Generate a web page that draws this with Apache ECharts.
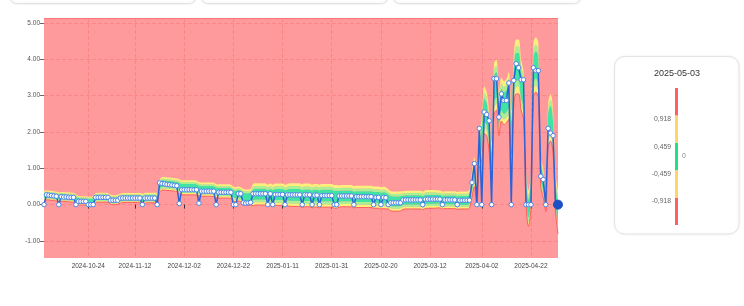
<!DOCTYPE html>
<html><head><meta charset="utf-8">
<script src="https://cdn.jsdelivr.net/npm/echarts@6/dist/echarts.min.js"></script>
<style>html,body{margin:0;padding:0;background:#fff}#c{width:744px;height:306px}</style>
</head><body><div id="c"></div>
<script>
// ---------- data ----------
const startDay = [2024, 9, 6]; // 2024-10-06, daily categories
const actual = [
 0,0.27,0.26,0.25,0.24,0.23,0,0.22,0.21,0.21,0.2,0.2,0.2,0,0.09,0.09,0.09,0.09,0,0,
 0,0.2,0.2,0.2,0.2,0.2,0.2,0.12,0.12,0.12,0.12,0.18,0.18,0.18,0.18,0.18,0.18,0.18,0.18,0.18,
 0,0.18,0.18,0.18,0.18,0.18,0,0.6,0.58,0.57,0.56,0.55,0.54,0.53,0.52,0.03,0.41,0.41,0.41,0.41,
 0.41,0.41,0.41,0.04,0.37,0.37,0.37,0.37,0.37,0.37,0,0.34,0.34,0.34,0.34,0.34,0.34,0,0,0.3,
 0.3,0.05,0.04,0.05,0.06,0.3,0.3,0.3,0.3,0.3,0.3,0,0.3,0,0.28,0.28,0.28,0.28,0,0.27,
 0.27,0.27,0.27,0.27,0.27,0,0.27,0.27,0.27,0,0.26,0.26,0,0.25,0.25,0.25,0.25,0.25,0,0,
 0.24,0.24,0.24,0.24,0.24,0.24,0,0.22,0.22,0.22,0.22,0.22,0.22,0.22,0,0.2,0.2,0,0.2,0.19,
 0,0.05,0.05,0.05,0.05,0.05,0.13,0.13,0.13,0.13,0.13,0.13,0.13,0.13,0,0.15,0.15,0.15,0.15,0.15,
 0.15,0.15,0,0.13,0.13,0.13,0.13,0.13,0,0.12,0.12,0.12,0.12,0.12,0.61,1.13,0,2.10,0,2.55,
 2.48,2.31,0,3.47,3.47,2.41,3.05,2.87,2.87,3.35,0,3.42,3.88,3.77,3.44,3.44,0,0,0,3.77,
 3.69,3.69,0.78,0.69,0,2.10,1.97,1.90,0,0
];
const bandCenter = [
 0.25,0.26,0.26,0.25,0.24,0.23,0.21,0.22,0.22,0.21,0.21,0.2,0.2,0.16,0.12,0.11,0.11,0.11,0.1,0.1,
 0.12,0.18,0.2,0.2,0.2,0.2,0.19,0.15,0.13,0.13,0.14,0.17,0.19,0.19,0.19,0.19,0.19,0.19,0.19,0.19,
 0.16,0.18,0.19,0.19,0.19,0.19,0.17,0.5,0.58,0.58,0.57,0.57,0.56,0.55,0.54,0.5,0.47,0.47,0.47,0.47,
 0.47,0.47,0.46,0.43,0.42,0.42,0.42,0.42,0.42,0.41,0.38,0.37,0.37,0.37,0.37,0.37,0.36,0.3,0.28,0.3,
 0.28,0.22,0.2,0.2,0.21,0.27,0.29,0.29,0.29,0.29,0.29,0.25,0.28,0.25,0.28,0.28,0.28,0.28,0.25,0.27,
 0.27,0.27,0.27,0.27,0.27,0.24,0.26,0.26,0.26,0.23,0.25,0.25,0.23,0.25,0.25,0.25,0.25,0.25,0.22,0.22,
 0.23,0.24,0.24,0.24,0.24,0.24,0.21,0.22,0.22,0.22,0.22,0.22,0.22,0.22,0.2,0.2,0.2,0.18,0.19,0.18,
 0.15,0.1,0.09,0.09,0.09,0.1,0.12,0.13,0.13,0.13,0.13,0.13,0.13,0.13,0.11,0.14,0.15,0.15,0.15,0.15,
 0.15,0.15,0.12,0.13,0.13,0.13,0.13,0.13,0.11,0.12,0.12,0.12,0.12,0.15,0.55,0.9,0.3,1.5,1.8,2.6,
 2.5,2.0,1.2,3.2,3.3,2.5,2.9,2.8,2.85,3.0,2.0,3.4,3.8,3.8,3.3,3.0,0.5,-0.1,0.4,3.7,
 3.85,3.7,0.9,0.6,0.1,2.2,2.4,2.0,0.3,-0.2
];
const bandWidth = [
 0.13,0.13,0.13,0.13,0.13,0.13,0.13,0.13,0.13,0.13,0.13,0.13,0.13,0.12,0.12,0.12,0.12,0.12,0.12,0.12,
 0.12,0.13,0.13,0.13,0.13,0.13,0.13,0.13,0.13,0.13,0.13,0.13,0.13,0.13,0.13,0.13,0.13,0.13,0.13,0.13,
 0.14,0.14,0.14,0.14,0.14,0.14,0.14,0.17,0.18,0.18,0.18,0.18,0.18,0.18,0.18,0.2,0.2,0.2,0.2,0.2,
 0.2,0.2,0.2,0.19,0.19,0.19,0.19,0.19,0.19,0.19,0.19,0.19,0.19,0.19,0.19,0.19,0.19,0.2,0.2,0.2,
 0.2,0.22,0.22,0.22,0.22,0.3,0.3,0.3,0.3,0.3,0.3,0.3,0.3,0.3,0.3,0.3,0.3,0.3,0.3,0.3,
 0.32,0.32,0.32,0.32,0.32,0.32,0.32,0.32,0.32,0.32,0.32,0.32,0.32,0.32,0.32,0.32,0.32,0.32,0.32,0.32,
 0.3,0.3,0.3,0.3,0.3,0.3,0.3,0.3,0.3,0.3,0.3,0.3,0.3,0.3,0.3,0.3,0.3,0.3,0.3,0.3,
 0.27,0.27,0.27,0.27,0.27,0.27,0.25,0.25,0.25,0.25,0.25,0.25,0.25,0.25,0.25,0.25,0.25,0.25,0.25,0.25,
 0.24,0.24,0.24,0.24,0.24,0.24,0.24,0.24,0.24,0.24,0.24,0.24,0.24,0.25,0.35,0.4,0.35,0.5,0.55,0.65,
 0.6,0.55,0.5,0.7,0.7,0.6,0.6,0.6,0.6,0.65,0.6,0.7,0.75,0.75,0.7,0.65,0.5,0.5,0.5,0.75,
 0.75,0.75,0.4,0.4,0.3,0.6,0.65,0.6,0.5,0.6
];
const tickLabels = ['2024-10-24','2024-11-12','2024-12-02','2024-12-22','2025-01-11','2025-01-31','2025-02-20','2025-03-12','2025-04-02','2025-04-22'];
const yTicks = [-1, 0, 1, 2, 3, 4, 5];
const yRange = [-1.47, 5.14];
const gaugeTitle = '2025-05-03';
const gaugeThresholds = [-0.918, -0.459, 0.459, 0.918];          // boundaries between the 5 blocks
const gaugeColors = ['#ff5e63', '#ffd666', '#20e08a', '#ffd666', '#ff5e63'];
const currentDeviation = 0;

// ---------- build ----------
const dates = actual.map((_, i) => new Date(Date.UTC(startDay[0], startDay[1], startDay[2]) + i * 864e5).toISOString().slice(0, 10));
const tickSet = new Set(tickLabels);
const showTick = (idx) => tickSet.has(dates[idx]);

const lower = bandCenter.map((c, i) => +(c - bandWidth[i]).toFixed(4));
const part = (f) => bandWidth.map(w => +(w * f).toFixed(4));
const bandParts = [
  { d: part(0.25), c: '#fbef7e' },
  { d: part(0.25), c: '#acee92' },
  { d: part(1.0),  c: '#3fe3a4' },
  { d: part(0.25), c: '#acee92' },
  { d: part(0.25), c: '#fbef7e' }
];
const font = 'Liberation Sans, Arial, sans-serif';

const series = [{
  type: 'line', stack: 'band', stackStrategy: 'all', data: lower, smooth: 0.35,
  showSymbol: false, lineStyle: { color: '#ff5a5f', width: 1 }, z: 2, silent: true,
  markLine: { silent: true, symbol: 'none', label: { show: false },
    lineStyle: { color: '#ff7478', type: 'solid', width: 1 }, data: [{ yAxis: yRange[1] }] }
}];
bandParts.forEach(p => series.push({
  type: 'line', stack: 'band', stackStrategy: 'all', data: p.d, smooth: 0.35,
  showSymbol: false, lineStyle: { width: 0 }, areaStyle: { color: p.c, opacity: 1 }, z: 2, silent: true
}));
series.push({
  type: 'line', data: actual.map((v, i) => i === actual.length - 1
    ? { value: v, symbolSize: 9, itemStyle: { color: '#1d4fc4', borderColor: '#1d4fc4' } } : v),
  symbol: 'circle', symbolSize: 4.5, showAllSymbol: true,
  lineStyle: { color: '#2b62d6', width: 1.5 },
  itemStyle: { color: '#ffffff', borderColor: '#4d84e6', borderWidth: 1 }, z: 5
});
// gauge: 5 equal blocks, block k spans [k, k+1] on the gauge axis
const segs = gaugeColors.map((c, k) => [{ yAxis: k, itemStyle: { color: c, opacity: 1 } }, { yAxis: k + 1 }]);
series.push({
  type: 'scatter', xAxisIndex: 1, yAxisIndex: 1, data: [[0, gaugeColors.length / 2]],
  symbolSize: 1, itemStyle: { color: 'rgba(0,0,0,0)' }, z: 5,
  label: { show: true, position: 'right', distance: 5, formatter: String(currentDeviation), fontSize: 6.8, color: '#666', fontFamily: font },
  markArea: { silent: true, data: segs }
});

const chart = echarts.init(document.getElementById('c'), null, { renderer: 'canvas' });
chart.setOption({
  animation: false,
  backgroundColor: '#ffffff',
  textStyle: { fontFamily: font },
  grid: [
    { left: 44, right: 186, top: 18, bottom: 48, show: true, backgroundColor: '#ff9a9c', borderWidth: 0 },
    { left: 675, width: 3, top: 88, height: 137 }
  ],
  xAxis: [{
    type: 'category', data: dates, boundaryGap: false,
    axisLine: { show: false },
    axisTick: { show: true, interval: showTick, length: 4, lineStyle: { color: '#333' } },
    axisLabel: { interval: showTick, fontSize: 6.5, color: '#444', margin: 5 },
    splitLine: { show: true, interval: showTick, lineStyle: { type: 'dashed', color: 'rgba(215,60,60,0.2)' } }
  }, {
    type: 'value', gridIndex: 1, min: -1, max: 1, show: false
  }],
  yAxis: [{
    type: 'value', min: yRange[0], max: yRange[1],
    axisLine: { show: false },
    axisTick: { show: true, length: 4, customValues: yTicks, lineStyle: { color: '#666' } },
    axisLabel: { customValues: yTicks, fontSize: 6.5, color: '#555', margin: 4,
      formatter: v => Math.abs(v - Math.round(v)) < 1e-6 ? v.toFixed(2) : '' },
    splitLine: { show: true, lineStyle: { type: 'dashed', color: 'rgba(215,60,60,0.2)' } }
  }, {
    type: 'value', gridIndex: 1, min: 0, max: gaugeColors.length, interval: 1,
    axisLine: { show: false }, axisTick: { show: false }, splitLine: { show: false },
    axisLabel: { fontSize: 6.8, color: '#666', margin: 4, verticalAlign: 'top', lineHeight: 8,
      formatter: v => (v >= 1 && v <= gaugeThresholds.length) ? gaugeThresholds[v - 1].toFixed(3).replace('.', ',') : '' }
  }],
  graphic: [
    { type: 'rect', z: -1, shape: { x: 10.5, y: -20, width: 185, height: 23.5, r: 6 }, style: { fill: '#fff', stroke: '#e2e2e2', lineWidth: 1, shadowBlur: 3, shadowColor: 'rgba(0,0,0,0.08)' } },
    { type: 'rect', z: -1, shape: { x: 201.5, y: -20, width: 186, height: 23.5, r: 6 }, style: { fill: '#fff', stroke: '#e2e2e2', lineWidth: 1, shadowBlur: 3, shadowColor: 'rgba(0,0,0,0.08)' } },
    { type: 'rect', z: -1, shape: { x: 393.5, y: -20, width: 187, height: 23.5, r: 6 }, style: { fill: '#fff', stroke: '#e2e2e2', lineWidth: 1, shadowBlur: 3, shadowColor: 'rgba(0,0,0,0.08)' } },
    { type: 'rect', z: -1, shape: { x: 614.5, y: 56.5, width: 124.5, height: 177.5, r: 10 }, style: { fill: '#fff', stroke: '#e4e4e4', lineWidth: 1, shadowBlur: 3, shadowColor: 'rgba(0,0,0,0.06)' } },
    { type: 'text', z: 10, x: 677, y: 73.5, style: { text: gaugeTitle, align: 'center', verticalAlign: 'middle', fontSize: 9, fill: '#333', fontFamily: font } }
  ],
  series: series
});
</script></body></html>
